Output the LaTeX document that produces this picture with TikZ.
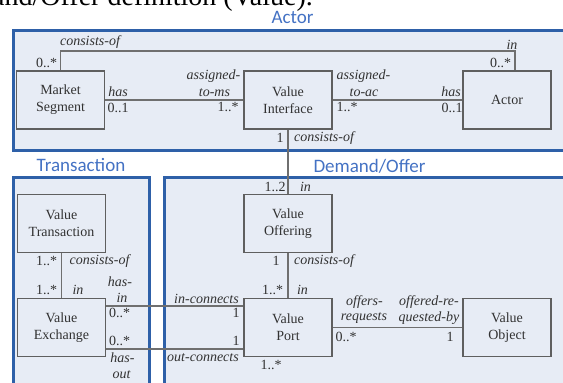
\documentclass[tikz,border=0pt]{standalone}
\usepackage{fontspec}
\setmainfont{Liberation Serif}
\newfontfamily\framefont{Carlito}
\definecolor{framefill}{RGB}{231,236,245}
\definecolor{frameline}{RGB}{46,96,168}
\definecolor{framelabel}{RGB}{68,114,196}
\definecolor{boxline}{RGB}{95,95,95}
\definecolor{txt}{RGB}{50,50,50}
\tikzset{
  frame/.style={fill=framefill,draw=frameline,line width=3pt},
  framelbl/.style={font=\framefont\fontsize{19}{21}\selectfont,text=framelabel,inner sep=0pt},
  cls/.style={draw=boxline,fill=framefill,line width=1.3pt,minimum width=88pt,minimum height=58pt,align=center,font=\fontsize{14}{17}\selectfont,text=txt,inner sep=1pt},
  conn/.style={draw=boxline!90,line width=1.2pt},
  role/.style={font=\itshape\fontsize{14}{15}\selectfont,text=txt,inner sep=0pt},
  mult/.style={font=\fontsize{14}{15}\selectfont,text=txt,inner sep=0pt},
}
\begin{document}
\begin{tikzpicture}[x=1pt,y=-1pt]
\useasboundingbox (0,0) rectangle (563,383);
\clip (0,0) rectangle (563,383);
\fill[white] (0,0) rectangle (563,383);
% caption fragment
\node[anchor=base east,inner sep=0pt,font=\fontsize{28}{30}\selectfont] (cap) at (313,5) {Demand/Offer definition (Value).};
% frames
\draw[frame] (13,30) rectangle (580,150);
\draw[frame] (13,177) rectangle (149,400);
\draw[frame] (164,177) rectangle (580,400);
\node[framelbl] (lActor) at (292.5,17) {Actor};
\node[framelbl] (lTrans) at (81,165) {Transaction};
\node[framelbl] (lDemand) at (369.5,166) {Demand/Offer};
% classes
\node[cls] (MS) at (60.5,100) {Market\\Segment};
\node[cls] (VI) at (288,100) {Value\\Interface};
\node[cls] (AC) at (507,100) {Actor};
\node[cls] (VT) at (61.5,223.5) {Value\\Transaction};
\node[cls] (VE) at (61.5,327.5) {Value\\Exchange};
\node[cls] (VO) at (288,223.5) {Value\\Offering};
\node[cls] (VP) at (288,327.5) {Value\\Port};
\node[cls] (VOb) at (507,327.5) {Value\\Object};
% connectors
\coordinate (c1) at (515,51);
\draw[conn] (MS.north) |- (c1) -- (c1 |- AC.north);
\draw[conn] (MS) -- (VI);
\draw[conn] (VI) -- (AC);
\draw[conn] (VI.south) -- (VO.north);
\draw[conn] (VO.south) -- (VP.north);
\draw[conn] (VT.south) -- (VE.north);
\draw[conn] (VP) -- (VOb);
\draw[conn] (VE.east |- 0,306) -- (VP.west |- 0,306);
\draw[conn] (VE.east |- 0,349) -- (VP.west |- 0,349);
% labels actor
\node[role] (r1) at (90,42) {consists-of};
\node[mult] (m1) at (46.5,63) {0..*};
\node[role] (r2) at (512,45) {in};
\node[mult] (m2) at (500.5,63) {0..*};
\node[role] (r3) at (118,92) {has};
\node[mult] (m3) at (118,108) {0..1};
\node[role] (r4) at (213.5,76) {assigned-};
\node[role] (r5) at (214.5,93) {to-ms};
\node[mult] (m4) at (228,107) {1..*};
\node[role] (r6) at (363.5,76) {assigned-};
\node[role] (r7) at (364,93) {to-ac};
\node[mult] (m5) at (347,107) {1..*};
\node[role] (r8) at (451,92) {has};
\node[mult] (m6) at (452,108) {0..1};
\node[mult] (m7) at (280,138) {1};
\node[role] (r9) at (324,138) {consists-of};
% demand/offer
\node[mult] (m8) at (275,187) {1..2};
\node[role] (r10) at (305.5,187) {in};
\node[mult] (m9) at (276,261) {1};
\node[role] (r11) at (324,261) {consists-of};
\node[mult] (m10) at (272.5,290) {1..*};
\node[role] (r12) at (302.5,290) {in};
% transaction
\node[mult] (m11) at (46.5,261) {1..*};
\node[role] (r13) at (99.5,261) {consists-of};
\node[mult] (m12) at (46.5,290) {1..*};
\node[role] (r14) at (78,290) {in};
\node[role] (r15) at (120,282) {has-};
\node[role] (r16) at (122,298) {in};
\node[role] (r17) at (206.5,299) {in-connects};
\node[mult] (m13) at (236,313) {1};
\node[mult] (m14) at (119.5,313) {0..*};
\node[mult] (m15) at (119.5,341) {0..*};
\node[mult] (m16) at (236,341) {1};
\node[role] (r18) at (203,358) {out-connects};
\node[role] (r19) at (122.5,358) {has-};
\node[role] (r20) at (121.5,375) {out};
\node[mult] (m17) at (271,365) {1..*};
\node[role] (r21) at (364.5,302) {offers-};
\node[role] (r22) at (364,318) {requests};
\node[role] (r23) at (429,302) {offered-re-};
\node[role] (r24) at (429,318) {quested-by};
\node[mult] (m18) at (346,337) {0..*};
\node[mult] (m19) at (450,337) {1};
\end{tikzpicture}
\end{document}
